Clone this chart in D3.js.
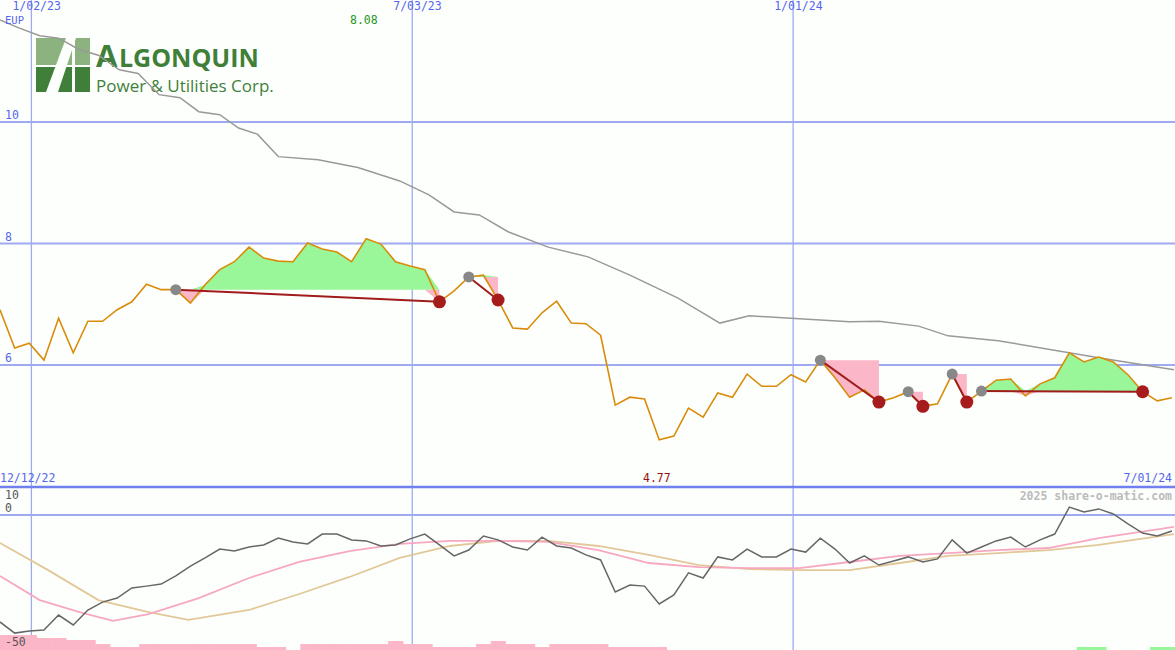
<!DOCTYPE html>
<html><head><meta charset="utf-8">
<script src="https://cdn.jsdelivr.net/npm/d3@7"></script>
<style>
body{margin:0;background:#fdfffd;}
text{font-family:"DejaVu Sans Mono",monospace;font-size:11.5px;}
</style></head>
<body><div id="chart"></div>
<script>
// weekly closes, starting 2022-12-18
var startDate = new Date(2022, 11, 18);
var prices = [6.91,6.28,6.36,6.08,6.77,6.20,6.72,6.72,6.91,7.04,7.33,7.24,7.24,7.02,7.32,7.57,7.70,7.94,7.76,7.71,
  7.70,8.01,7.91,7.86,7.70,8.08,7.99,7.70,7.63,7.57,7.04,7.22,7.45,7.48,7.07,6.61,6.59,6.86,7.05,6.69,
  6.68,6.49,5.34,5.47,5.44,4.77,4.83,5.29,5.14,5.54,5.47,5.85,5.65,5.65,5.84,5.72,6.08,5.79,5.47,5.59,
  5.39,5.46,5.56,5.32,5.36,5.85,5.39,5.57,5.75,5.77,5.49,5.69,5.79,6.20,6.05,6.13,6.05,5.84,5.56,5.41,5.46];
// long moving average (week index, value)
var maWeeks = [0,1.4,2.73,4.1,5.46,6.8,8.19,9.5,10.92,12.3,13.65,15.0,16.38,17.7,19.11,21.84,24.57,27.3,29.35,31.06,32.76,34.81,37.54,40.27,43.0,46.42,49.15,51.19,54.6,58.02,60.07,62.8,64.85,68.26,71.67,75.09,80.2];
var maVals = [11.68,11.55,11.42,11.38,11.19,11.10,10.86,10.80,10.45,10.40,10.17,10.12,9.90,9.80,9.43,9.38,9.25,9.03,8.80,8.52,8.47,8.19,7.94,7.78,7.48,7.10,6.69,6.81,6.76,6.71,6.72,6.64,6.48,6.40,6.26,6.12,5.92];
// patterns: [peak week, trough week]
var patterns = [[12,30],[32,34],[56,60],[62,63],[65,66],[67,78]];
// oscillator panel
var osc = [-42.1,-46.5,-45.7,-45.3,-39.4,-43.3,-37.4,-34.3,-32.7,-28.7,-28.0,-27.2,-24.0,-20.1,-16.9,-13.4,-14.2,-12.6,-11.8,-9.1,
  -10.6,-11.4,-7.5,-7.5,-9.8,-10.2,-12.2,-11.8,-9.4,-7.5,-11.8,-16.1,-13.8,-8.3,-9.8,-12.6,-13.8,-8.7,-12.2,-13.0,
  -15.7,-17.7,-30.3,-27.6,-28.0,-35.0,-31.5,-22.8,-24.8,-16.5,-17.7,-13.4,-16.5,-16.5,-13.4,-14.6,-9.1,-13.4,-18.9,-16.1,
  -19.7,-18.1,-16.5,-18.5,-17.3,-9.8,-15.0,-12.6,-10.2,-8.7,-12.6,-9.8,-7.5,3.1,1.2,2.4,0.4,-3.5,-7.1,-8.3,-6.3];
var pinkWeeks = [0,2.73,5.46,7.85,10.24,13.65,17.06,20.48,23.89,27.3,30.72,34.13,37.54,40.96,44.37,47.78,51.19,54.61,58.02,61.43,64.85,68.26,71.67,75.09,80.2];
var pinkVals = [-24.0,-33.5,-38.2,-41.7,-39.0,-32.7,-24.8,-18.5,-14.2,-11.4,-10.2,-10.2,-10.6,-13.8,-18.9,-20.5,-20.9,-20.9,-18.5,-16.1,-15.0,-13.8,-13.0,-9.1,-4.7];
var tanWeeks = [0,3.41,6.83,10.24,12.97,17.06,20.48,23.89,27.3,30.72,34.13,37.54,40.96,44.37,47.78,51.19,54.61,58.02,61.43,64.85,68.26,71.67,75.09,80.2];
var tanVals = [-11.0,-21.7,-33.5,-38.2,-41.3,-37.4,-31.1,-24.4,-16.9,-12.2,-10.2,-10.2,-12.2,-15.7,-19.7,-21.3,-21.7,-21.7,-18.9,-16.1,-15.0,-13.8,-11.8,-7.5];
// weekly histogram (positive pink, negative green)
var hist = [15,15,15,12,12,10,10,6,3,3,6,6,6,6,6,6,6,6,3,3,0,6,6,6,6,6,6,9,6,6,3,3,3,6,9,6,6,3,6,6,6,6,3,3,3,3,
  0,0,0,0,0,0,0,0,0,0,0,0,0,0,0,0,0,0,0,0,0,0,0,0,0,0,0,0,-3,-3,0,0,0,-3,-3];
var dateTicks = [new Date(2023,0,2), new Date(2023,6,3), new Date(2024,0,1)];
var dateLabels = ["1/02/23","7/03/23","1/01/24"];
var priceTicks = [10,8,6];

var W = 1175, H = 650, blue = "#a0aaf0", lab = "#5566ee";
function wk(i){ return d3.timeDay.offset(startDate, i*7); }

var svg = d3.select("#chart").append("svg").attr("width",W).attr("height",H);
svg.append("rect").attr("width",W).attr("height",H).attr("fill","#fdfffd");

var x = d3.scaleTime().domain([new Date(2022,11,18), new Date(2024,6,1)]).range([0,1174]);
var y = d3.scaleLinear().domain([6,10]).range([365,122]);
var y2 = d3.scaleLinear().domain([0,-50]).range([515,642]);

// grid
svg.selectAll(".vg").data(dateTicks).enter().append("line")
  .attr("x1",d=>x(d)).attr("x2",d=>x(d)).attr("y1",0).attr("y2",H)
  .attr("stroke",blue).attr("stroke-width",1.3);
svg.selectAll(".hg").data(priceTicks).enter().append("line")
  .attr("x1",0).attr("x2",W).attr("y1",d=>y(d)).attr("y2",d=>y(d))
  .attr("stroke",blue).attr("stroke-width",2);
svg.append("line").attr("x1",0).attr("x2",W).attr("y1",487).attr("y2",487).attr("stroke","#7080ee").attr("stroke-width",2.5);
svg.append("line").attr("x1",0).attr("x2",W).attr("y1",y2(0)).attr("y2",y2(0)).attr("stroke",blue).attr("stroke-width",2);

// logo
var logo = svg.append("g").attr("transform","translate(36,38)");
logo.append("rect").attr("width",54).attr("height",27).attr("fill","#8cb37f");
logo.append("rect").attr("y",29).attr("width",54).attr("height",25).attr("fill","#3f7f3a");
logo.append("path").attr("d","M10,54 L30,0 L40,0 L22,54 Z").attr("fill","#fdfffd");
logo.append("rect").attr("x",36).attr("y",0).attr("width",3).attr("height",54).attr("fill","#fdfffd");
logo.append("text").attr("x",60).attr("y",29).attr("fill","#3f7f3a")
  .style("font-family","'Open Sans',sans-serif").style("font-size","31px").style("font-weight","bold").text("A");
logo.append("text").attr("x",83).attr("y",29).attr("fill","#3f7f3a")
  .style("font-family","'Open Sans',sans-serif").style("font-size","25px").style("font-weight","bold").text("LGONQUIN");
logo.append("text").attr("x",60).attr("y",54).attr("fill","#3f7f3a")
  .style("font-family","'Open Sans',sans-serif").style("font-size","17px").text("Power & Utilities Corp.");

// moving average
svg.append("path").datum(maWeeks.map((w,i)=>[w,maVals[i]]))
  .attr("d",d3.line().x(d=>x(wk(d[0]))).y(d=>y(d[1])))
  .attr("fill","none").attr("stroke","#999").attr("stroke-width",1.5);

// pattern fills
patterns.forEach(function(p){
  var lvl = y(prices[p[0]]), seg = d3.range(p[0],p[1]+1);
  svg.append("path").datum(seg).attr("fill","#99f799")
    .attr("d",d3.area().x(i=>x(wk(i))).y0(lvl).y1(i=>Math.min(y(prices[i]),lvl)));
  svg.append("path").datum(seg).attr("fill","#fbb6c8")
    .attr("d",d3.area().x(i=>x(wk(i))).y0(lvl).y1(i=>Math.max(y(prices[i]),lvl)));
});

// price line
svg.append("path").datum(prices)
  .attr("d",d3.line().x((d,i)=>x(wk(i))).y(d=>y(d)))
  .attr("fill","none").attr("stroke","#d98c0a").attr("stroke-width",1.6);

patterns.forEach(function(p){
  svg.append("line").attr("x1",x(wk(p[0]))).attr("y1",y(prices[p[0]]))
    .attr("x2",x(wk(p[1]))).attr("y2",y(prices[p[1]]))
    .attr("stroke","#a01c1c").attr("stroke-width",2);
  svg.append("circle").attr("cx",x(wk(p[0]))).attr("cy",y(prices[p[0]])).attr("r",5.5).attr("fill","#888");
  svg.append("circle").attr("cx",x(wk(p[1]))).attr("cy",y(prices[p[1]])).attr("r",6.5).attr("fill","#a61c1c");
});

// labels
svg.selectAll(".dl").data(dateLabels).enter().append("text")
  .attr("x",(d,i)=>x(dateTicks[i])-19).attr("y",10).attr("fill",lab).text(d=>d);
svg.selectAll(".pl").data(priceTicks).enter().append("text")
  .attr("x",5).attr("y",d=>y(d)-3).attr("fill",lab).text(d=>d);
svg.append("text").attr("x",5).attr("y",24).attr("fill",lab).style("font-size","10.5px").text("EUP");
svg.append("text").attr("x",350).attr("y",24).attr("fill","#229922").text(d3.max(prices).toFixed(2));
svg.append("text").attr("x",643).attr("y",482).attr("fill","#991111").text(d3.min(prices).toFixed(2));
svg.append("text").attr("x",0).attr("y",482).attr("fill",lab).text("12/12/22");
svg.append("text").attr("x",1172).attr("y",482).attr("fill",lab).attr("text-anchor","end").text("7/01/24");
svg.append("text").attr("x",1172).attr("y",500).attr("fill","#bbb").attr("text-anchor","end")
  .style("font-weight","bold").text("2025 share-o-matic.com");
svg.append("text").attr("x",5).attr("y",499).attr("fill","#555").text("10");
svg.append("text").attr("x",5).attr("y",512).attr("fill","#555").text("0");

// histogram
var bw = x(wk(1))-x(wk(0));
svg.selectAll(".hb").data(hist).enter().append("rect")
  .attr("x",(d,i)=>x(wk(i))-bw/2).attr("width",bw+0.5)
  .attr("y",d=>H-Math.abs(d)).attr("height",d=>Math.abs(d))
  .attr("fill",d=>d>0?"#fbb6c8":"#99f799");
svg.append("text").attr("x",5).attr("y",646).attr("fill","#555").text("-50");

// oscillator lines
svg.append("path").datum(tanWeeks.map((w,i)=>[w,tanVals[i]]))
  .attr("d",d3.line().x(d=>x(wk(d[0]))).y(d=>y2(d[1])))
  .attr("fill","none").attr("stroke","#e2c898").attr("stroke-width",1.8);
svg.append("path").datum(pinkWeeks.map((w,i)=>[w,pinkVals[i]]))
  .attr("d",d3.line().x(d=>x(wk(d[0]))).y(d=>y2(d[1])))
  .attr("fill","none").attr("stroke","#f7a8c0").attr("stroke-width",1.8);
svg.append("path").datum(osc)
  .attr("d",d3.line().x((d,i)=>x(wk(i))).y(d=>y2(d)))
  .attr("fill","none").attr("stroke","#666").attr("stroke-width",1.5);
</script></body></html>
